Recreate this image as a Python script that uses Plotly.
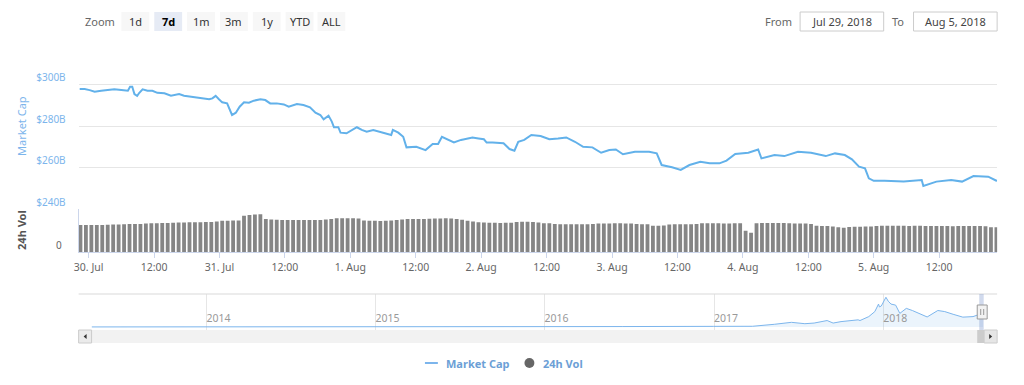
import plotly.graph_objects as go
import pandas as pd

W, H = 1024, 385


def px(x):
    return x / W


def py(y):
    return 1 - y / H


# ---------------- data ----------------
# Market cap: hours since 2018-07-30 00:00, value in $B
mcap_hours = [
    -1.64, -0.73, 0.18, 1.1, 2.3, 3.5, 4.7, 6.0, 7.2, 7.6,
    8.0, 8.4, 8.9, 9.3, 9.9, 10.8, 11.7, 12.6, 13.9, 15.1,
    15.7, 16.6, 17.5, 18.7, 19.9, 21.2, 22.1, 22.7, 23.3, 23.9,
    24.5, 25.4, 25.9, 26.3, 27.0, 27.7, 28.5, 29.4, 30.3, 31.5,
    32.4, 33.3, 34.5, 35.8, 36.7, 38.2, 39.4, 40.6, 41.6, 42.5,
    43.1, 44.0, 44.6, 45.0, 45.8, 46.2, 47.3, 48.2, 49.2, 50.1,
    51.0, 52.2, 53.4, 54.3, 55.5, 55.8, 56.8, 57.7, 58.3, 60.1,
    61.0, 61.8, 63.1, 64.1, 64.8, 67.0, 68.3, 70.4, 71.5, 72.5,
    73.0, 74.1, 76.1, 77.2, 78.1, 78.8, 79.9, 81.2, 82.9, 84.5,
    86.1, 87.6, 89.2, 90.7, 92.4, 94.0, 95.5, 96.7, 98.0, 100.2,
    102.8, 104.2, 105.1, 107.0, 108.6, 110.2, 112.2, 113.9, 115.7, 117.0,
    118.6, 121.0, 122.8, 123.4, 125.8, 127.6, 130.1, 132.5, 135.2, 136.9,
    138.7, 140.0, 141.3, 142.4, 143.1, 144.0, 146.0, 149.5, 152.8, 153.1,
    155.5, 158.2, 160.2, 162.3, 165.0, 166.6,
]
mcap_values = [
    297.8, 297.8, 297.3, 296.5, 297.0, 297.3, 297.7, 297.3, 297.0, 298.9,
    298.9, 295.4, 294.5, 296.0, 297.7, 297.0, 297.0, 296.0, 295.8, 294.6,
    294.9, 295.4, 294.6, 294.1, 293.8, 293.3, 292.9, 293.3, 294.5, 292.9,
    291.4, 290.9, 287.7, 285.3, 286.4, 289.3, 291.4, 291.2, 292.2, 292.9,
    292.5, 290.9, 290.9, 290.4, 289.3, 290.6, 290.1, 289.0, 286.4, 285.3,
    283.2, 285.0, 282.1, 279.4, 279.4, 276.8, 276.5, 277.7, 279.4, 278.1,
    277.3, 278.1, 277.3, 276.8, 275.7, 278.1, 276.8, 274.8, 269.7, 270.0,
    269.3, 268.4, 271.3, 271.3, 274.8, 272.1, 273.3, 274.5, 274.0, 273.6,
    272.0, 272.1, 271.7, 268.9, 268.1, 272.4, 273.3, 275.7, 275.2, 273.6,
    274.0, 274.5, 272.4, 270.0, 269.7, 267.1, 268.4, 268.7, 266.4, 267.6,
    267.6, 266.8, 261.2, 260.1, 258.8, 261.2, 262.8, 262.0, 262.0, 263.3,
    266.5, 267.1, 268.7, 264.4, 266.0, 265.5, 267.6, 267.1, 265.5, 266.8,
    266.0, 263.9, 260.4, 259.6, 254.8, 253.6, 253.6, 253.2, 254.0, 251.1,
    253.2, 254.0, 253.2, 255.9, 255.6, 253.5,
]

# 24h volume, hourly bars starting 2018-07-29 22:30, value in $B
vol_start = "2018-07-29 22:30"
vol_values = [
    18.8, 18.8,
    18.8, 18.9, 18.9, 19.0, 19.1, 19.2, 19.3, 19.5, 19.6, 19.6, 19.8, 20.0,
    20.1, 20.2, 20.3, 20.4, 20.5, 20.6, 20.7, 20.8, 20.8, 20.9, 21.0, 21.3,
    21.8, 21.8, 21.9, 22.0, 25.3, 25.8, 26.2, 26.3, 23.0, 22.6, 22.5, 22.4,
    22.3, 22.4, 22.3, 22.3, 22.4, 22.3, 22.4, 22.6, 23.0, 23.5, 23.5, 23.6,
    23.5, 23.4, 22.0, 21.8, 21.8, 21.7, 21.8, 21.9, 22.3, 22.7, 23.0, 23.0,
    23.1, 23.0, 23.2, 23.3, 23.4, 23.6, 23.4, 23.0, 22.5, 21.8, 21.2, 20.8,
    20.6, 20.4, 20.4, 20.3, 20.4, 20.4, 21.0, 21.1, 21.1, 21.0, 20.5, 20.1,
    20.0, 19.6, 19.4, 19.3, 19.3, 19.3, 19.4, 19.4, 19.5, 19.8, 19.9, 19.8,
    20.0, 20.1, 19.9, 19.9, 19.6, 19.4, 19.3, 18.4, 18.3, 18.5, 19.2, 19.3,
    19.3, 19.4, 19.3, 19.6, 20.0, 20.1, 20.0, 20.0, 19.9, 19.9, 20.0, 20.1,
    14.8, 13.4, 20.0, 20.2, 20.3, 20.3, 20.3, 20.2, 20.0, 19.9, 19.9, 19.8,
    19.5, 18.3, 18.1, 18.1, 17.8, 17.2, 17.0, 17.4, 17.7, 17.7, 17.8, 17.8,
    18.2, 18.3, 18.3, 18.4, 18.3, 18.3, 18.2, 18.3, 18.3, 18.1, 18.1, 18.2,
    18.1, 18.1, 18.0, 18.1, 18.1, 18.2, 18.1, 18.1, 18.0, 17.3, 17.2,
]

# Navigator (full history), value in $B
nav_dates = [
    "2013-04-28", "2013-07-01", "2013-10-01", "2013-11-15", "2013-12-04",
    "2013-12-20", "2014-02-01", "2014-04-15", "2014-06-01", "2014-09-01",
    "2015-01-15", "2015-06-01", "2015-11-05", "2016-01-01", "2016-06-18",
    "2016-12-31", "2017-03-01", "2017-03-25", "2017-05-11", "2017-05-25",
    "2017-06-17", "2017-07-16", "2017-08-05", "2017-09-02", "2017-09-15",
    "2017-10-02", "2017-10-20", "2017-11-08", "2017-11-12", "2017-12-01",
    "2017-12-14", "2017-12-22", "2017-12-24", "2017-12-28", "2018-01-07",
    "2018-01-12", "2018-01-18", "2018-01-28", "2018-02-06", "2018-02-20",
    "2018-03-05", "2018-03-20", "2018-04-06", "2018-04-29", "2018-05-14",
    "2018-06-01", "2018-06-22", "2018-07-14", "2018-07-24", "2018-08-05",
]
nav_values = [
    1.6, 1.3, 2, 6, 15,
    9, 10, 6, 8, 6,
    3, 3.5, 6, 7, 12,
    18, 22, 20, 75, 90,
    130, 92, 110, 180, 110,
    150, 180, 200, 180, 290,
    430, 640, 560, 586, 830,
    720, 640, 610, 380, 520,
    460, 380, 280, 460, 430,
    355, 275, 290, 335, 285,
]

x_tick_labels = ["30. Jul", "12:00", "31. Jul", "12:00", "1. Aug", "12:00", "2. Aug",
                 "12:00", "3. Aug", "12:00", "4. Aug", "12:00", "5. Aug", "12:00"]
mcap_ticks = [240, 260, 280, 300, 320]
mcap_tick_text = ["$240B", "$260B", "$280B", "$300B", ""]
nav_years = ["2014", "2015", "2016", "2017", "2018"]
zoom_buttons = ["1d", "7d", "1m", "3m", "1y", "YTD", "ALL"]
from_date_text = "Jul 29, 2018"
to_date_text = "Aug 5, 2018"

# ---------------- build ----------------
base = pd.Timestamp("2018-07-30 00:00")
mcap_x = [base + pd.Timedelta(hours=h) for h in mcap_hours]
vol_x = pd.date_range(vol_start, periods=len(vol_values), freq="1h")
tickvals = [base + pd.Timedelta(hours=12 * k) for k in range(len(x_tick_labels))]

FONT = "Noto Sans, Open Sans, DejaVu Sans, sans-serif"
BLUE = "#62b1ea"

fig = go.Figure()
fig.add_trace(go.Scatter(x=mcap_x, y=mcap_values, mode="lines",
                         line=dict(color=BLUE, width=2), xaxis="x", yaxis="y",
                         hoverinfo="skip"))
fig.add_trace(go.Bar(x=vol_x, y=vol_values, marker=dict(color="#858585", line=dict(width=0)),
                     xaxis="x", yaxis="y2", hoverinfo="skip"))
fig.add_trace(go.Scatter(x=pd.to_datetime(nav_dates), y=nav_values, mode="lines",
                         line=dict(color="#7cb5ec", width=1), fill="tozeroy",
                         fillcolor="rgba(124,181,236,0.15)", xaxis="x3", yaxis="y3",
                         hoverinfo="skip"))

fig.update_layout(
    width=W, height=H,
    margin=dict(l=0, r=0, t=0, b=0),
    paper_bgcolor="white", plot_bgcolor="white",
    showlegend=False,
    bargap=0.3,
    font=dict(family=FONT, size=10, color="#666"),
    xaxis=dict(
        domain=[px(74), px(997)], anchor="y2",
        range=["2018-07-29 22:10", "2018-08-05 22:38"],
        tickmode="array", tickvals=tickvals, ticktext=x_tick_labels,
        ticks="outside", ticklen=5, tickcolor="#ccd6eb",
        showline=True, linecolor="#ccd6eb", linewidth=1,
        showgrid=False, zeroline=False,
        tickfont=dict(size=10.5, color="#666"),
    ),
    yaxis=dict(
        domain=[py(209), py(43)], anchor="x",
        range=[240, 320],
        tickmode="array", tickvals=mcap_ticks, ticktext=mcap_tick_text,
        showgrid=True, gridcolor="#e6e6e6", gridwidth=1,
        zeroline=False, showline=False, ticks="",
        ticklabelposition="outside top", ticklabelstandoff=12,
        tickfont=dict(size=10, color="#7cb5ec"),
    ),
    yaxis2=dict(
        domain=[py(252), py(209)], anchor="x",
        range=[0, 30],
        tickmode="array", tickvals=[0], ticktext=["0"],
        showgrid=False, zeroline=False,
        showline=True, linecolor="#ccd6eb", ticks="",
        ticklabelposition="outside top", ticklabelstandoff=14,
        tickfont=dict(size=10, color="#666"),
    ),
    xaxis3=dict(
        domain=[px(87), px(983)], anchor="y3",
        range=["2013-04-28", "2018-08-05"],
        tickmode="array", tickvals=[f"{y}-01-01" for y in nav_years], ticktext=nav_years,
        ticklabelposition="inside right", ticks="",
        showgrid=True, gridcolor="#e6e6e6", zeroline=False, showline=False,
        tickfont=dict(size=10.5, color="#999"),
    ),
    yaxis3=dict(
        domain=[py(330), py(294)], anchor="x3",
        range=[-84, 921], visible=False, showgrid=False, zeroline=False,
    ),
)

shapes = []
annotations = []

# Titles of the y axes
annotations.append(dict(x=px(16), y=py(126), text="Market Cap", textangle=-90,
                        font=dict(size=11, color="#7cb5ec", family=FONT)))
annotations.append(dict(x=px(16), y=py(230), text="<b>24h Vol</b>", textangle=-90,
                        font=dict(size=11, color="#555", family=FONT)))

# Zoom buttons
annotations.append(dict(x=px(113), y=py(21), text="Zoom", xanchor="right",
                        font=dict(size=11, color="#666", family=FONT)))
btn_x = [117, 150, 183, 216, 249, 282, 314]
btn_w = 28
for lbl, bx in zip(zoom_buttons, btn_x):
    sel = lbl == "7d"
    shapes.append(dict(type="rect", xref="paper", yref="paper",
                       x0=px(bx), x1=px(bx + btn_w), y0=py(31), y1=py(12),
                       fillcolor="#e6ebf5" if sel else "#f7f7f7", line=dict(width=0), layer="below"))
    annotations.append(dict(x=px(bx + btn_w / 2), y=py(21.5),
                            text=f"<b>{lbl}</b>" if sel else lbl,
                            font=dict(size=11, color="#000" if sel else "#333", family=FONT)))

# From / To inputs
annotations.append(dict(x=px(793), y=py(21), text="From", xanchor="right",
                        font=dict(size=11, color="#666", family=FONT)))
shapes.append(dict(type="rect", xref="paper", yref="paper", x0=px(799), x1=px(883),
                   y0=py(31), y1=py(12), fillcolor="white", line=dict(color="#cccccc", width=1)))
annotations.append(dict(x=px(841), y=py(21.5), text=from_date_text,
                        font=dict(size=11, color="#444", family=FONT)))
annotations.append(dict(x=px(905), y=py(21), text="To", xanchor="right",
                        font=dict(size=11, color="#666", family=FONT)))
shapes.append(dict(type="rect", xref="paper", yref="paper", x0=px(913), x1=px(997),
                   y0=py(31), y1=py(12), fillcolor="white", line=dict(color="#cccccc", width=1)))
annotations.append(dict(x=px(955), y=py(21.5), text=to_date_text,
                        font=dict(size=11, color="#444", family=FONT)))

# Navigator top border
shapes.append(dict(type="line", xref="paper", yref="paper", x0=px(74), x1=px(997),
                   y0=py(294), y1=py(294), line=dict(color="#d9d9d9", width=1)))
# Navigator selected range mask
shapes.append(dict(type="rect", xref="paper", yref="paper", x0=px(979), x1=px(983.5),
                   y0=py(330), y1=py(294), fillcolor="rgba(102,133,194,0.3)", line=dict(width=0)))
# Scrollbar
shapes.append(dict(type="rect", xref="paper", yref="paper", x0=px(74), x1=px(997),
                   y0=py(343), y1=py(330), fillcolor="#f2f2f2", line=dict(width=0)))
shapes.append(dict(type="rect", xref="paper", yref="paper", x0=px(74), x1=px(87),
                   y0=py(343), y1=py(330), fillcolor="#ebebeb", line=dict(color="#cccccc", width=1)))
shapes.append(dict(type="rect", xref="paper", yref="paper", x0=px(977), x1=px(984),
                   y0=py(343), y1=py(330), fillcolor="#cccccc", line=dict(width=0)))
shapes.append(dict(type="rect", xref="paper", yref="paper", x0=px(984), x1=px(997),
                   y0=py(343), y1=py(330), fillcolor="#e6e6e6", line=dict(color="#cccccc", width=1)))
# arrows
shapes.append(dict(type="path", xref="paper", yref="paper",
                   path=f"M {px(82)} {py(334)} L {px(82)} {py(339)} L {px(79)} {py(336.5)} Z",
                   fillcolor="#333", line=dict(width=0)))
shapes.append(dict(type="path", xref="paper", yref="paper",
                   path=f"M {px(989)} {py(334)} L {px(989)} {py(339)} L {px(992)} {py(336.5)} Z",
                   fillcolor="#333", line=dict(width=0)))
# Navigator handle
shapes.append(dict(type="rect", xref="paper", yref="paper", x0=px(977), x1=px(987),
                   y0=py(319), y1=py(305), fillcolor="#f2f2f2", line=dict(color="#999", width=1)))
for hx in (980.5, 983.5):
    shapes.append(dict(type="line", xref="paper", yref="paper", x0=px(hx), x1=px(hx),
                       y0=py(309), y1=py(315), line=dict(color="#999", width=1)))

# Legend
shapes.append(dict(type="line", xref="paper", yref="paper", x0=px(422), x1=px(435),
                   y0=py(363), y1=py(363), line=dict(color="#7cb5ec", width=2)))
annotations.append(dict(x=px(441), y=py(363), text="<b>Market Cap</b>", xanchor="left",
                        font=dict(size=11, color="#6c9fd6", family=FONT)))
shapes.append(dict(type="circle", xref="paper", yref="paper", x0=px(522), x1=px(532),
                   y0=py(368), y1=py(358), fillcolor="#666", line=dict(width=0)))
annotations.append(dict(x=px(539), y=py(363), text="<b>24h Vol</b>", xanchor="left",
                        font=dict(size=11, color="#6c9fd6", family=FONT)))

for a in annotations:
    a.setdefault("xref", "paper")
    a.setdefault("yref", "paper")
    a.setdefault("showarrow", False)
    a.setdefault("yanchor", "middle")
    a.setdefault("xanchor", "center")

fig.update_layout(shapes=shapes, annotations=annotations)

fig.write_html("out.html", config={"displayModeBar": False})

# remove default page margin so the figure sits at the window origin
with open("out.html", "r", encoding="utf-8") as f:
    html = f.read()
html = html.replace("<head>", "<head><style>body{margin:0;padding:0;}</style>", 1)
with open("out.html", "w", encoding="utf-8") as f:
    f.write(html)
